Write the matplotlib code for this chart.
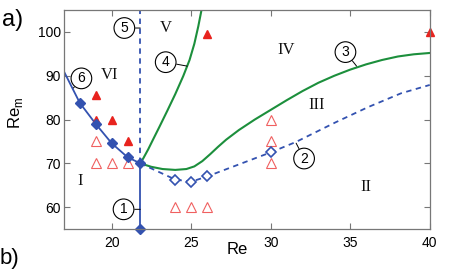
import matplotlib
matplotlib.use("Agg")
import matplotlib.pyplot as plt

# solid blue boundary with filled diamonds
solid_re = [17.0, 18.0, 19.0, 20.0, 21.0, 21.8]
solid_rem = [91.0, 83.8, 79.0, 74.6, 71.4, 70.0]
diam_re = [18.0, 19.0, 20.0, 21.0, 21.8, 21.8]
diam_rem = [83.8, 79.0, 74.6, 71.4, 70.0, 55.0]
vert_re = [21.8, 21.8]
vert_rem = [70.0, 55.0]
# dashed vertical (5)
dvert_re = [21.8, 21.8]
dvert_rem = [70.0, 105.0]
# dashed blue boundary (2) with open diamonds
dash_re = [21.8, 24.0, 25.0, 26.0, 30.0, 31.6, 34.1, 36.1, 38.2, 40.0]
dash_rem = [70.0, 66.3, 65.8, 67.0, 72.5, 74.9, 79.4, 82.8, 86.0, 87.9]
odiam_re = [24.0, 25.0, 26.0, 30.0]
odiam_rem = [66.3, 65.8, 67.0, 72.5]
# green curve (3)
g3_re = [21.8, 22.5, 23.2, 24.0, 24.7, 25.2, 25.7, 26.2, 26.7, 27.2, 28.0,
         29.0, 30.0, 31.0, 32.0, 33.0, 34.0, 35.0, 36.0, 37.0, 38.0, 39.0, 40.0]
g3_rem = [70.0, 69.2, 68.7, 68.5, 68.7, 69.3, 70.5, 72.1, 73.8, 75.4, 77.6,
          80.0, 82.2, 84.4, 86.5, 88.4, 90.0, 91.4, 92.6, 93.6, 94.4, 94.9, 95.2]
# green curve (4)
g4_re = [21.8, 22.0, 22.3, 22.6, 23.0, 23.5, 24.0, 24.5, 24.9, 25.2, 25.45, 25.65]
g4_rem = [70.0, 71.2, 73.2, 75.4, 78.3, 82.0, 85.8, 89.9, 93.6, 97.3, 101.3, 105.0]
# experiments
filled_re = [19, 19, 20, 21, 26, 40]
filled_rem = [85.5, 80, 80, 75, 99.5, 100]
open_re = [19, 19, 20, 21, 24, 25, 26, 30, 30, 30]
open_rem = [75, 70, 70, 70, 60, 60, 60, 80, 75, 70]

regions = ["I", "II", "III", "IV", "V", "VI"]
region_re = [18.0, 36.0, 32.9, 31.0, 23.4, 19.9]
region_rem = [65.9, 64.7, 83.3, 95.8, 100.9, 90.1]

circ_lab = ["1", "2", "3", "4", "5", "6"]
circ_re = [20.75, 32.1, 34.7, 23.4, 20.8, 18.1]
circ_rem = [59.5, 71.1, 95.4, 93.1, 100.9, 89.4]
lead_re = [21.8, 31.6, 35.4, 24.75, 21.8, 17.6]
lead_rem = [59.5, 74.6, 92.2, 92.2, 100.9, 87.2]

blue = "#3352b0"
green = "#1c8f3c"
red = "#e8231e"

fig = plt.figure(figsize=(4.5, 2.72), dpi=100)
ax = fig.add_axes([0.142, 0.158, 0.813, 0.805])

ax.plot(g3_re, g3_rem, color=green, lw=1.5)
ax.plot(g4_re, g4_rem, color=green, lw=1.5)
ax.plot(dvert_re, dvert_rem, color=blue, lw=1.3, dashes=(3, 2.5))
ax.plot(dash_re, dash_rem, color=blue, lw=1.3, dashes=(3, 2.5))
ax.plot(solid_re, solid_rem, color=blue, lw=1.3)
ax.plot(vert_re, vert_rem, color=blue, lw=1.3)

ax.plot(filled_re, filled_rem, ls="none", marker="^", ms=6, color=red, clip_on=False)
ax.plot(open_re, open_rem, ls="none", marker="^", ms=7, mfc="none", mec="#f06060",
        mew=0.8)
ax.plot(diam_re, diam_rem, ls="none", marker="D", ms=5.5, color=blue, clip_on=False)
ax.plot(odiam_re, odiam_rem, ls="none", marker="D", ms=5.5, mfc="white", mec=blue,
        mew=1.2)

for lab, x, y in zip(regions, region_re, region_rem):
    ax.text(x, y, lab, family="Liberation Serif", fontsize=12, ha="center",
            va="center", color="#111111")

for lab, x, y, lx, ly in zip(circ_lab, circ_re, circ_rem, lead_re, lead_rem):
    ax.annotate("", xy=(lx, ly), xytext=(x, y),
                arrowprops=dict(arrowstyle="-", lw=0.7, color="black",
                                shrinkA=8, shrinkB=0))
    ax.text(x, y, lab, fontsize=10, ha="center", va="center",
            family="Liberation Sans",
            bbox=dict(boxstyle="circle,pad=0.24", fc="white", ec="black", lw=0.8))

ax.set_xlim(17, 40)
ax.set_ylim(55, 105)
ax.set_xticks([20, 25, 30, 35, 40])
ax.set_yticks([60, 70, 80, 90, 100])
ax.tick_params(direction="in", top=True, right=True, length=4, width=0.8,
               color="#777777", labelsize=10)
ax.tick_params(axis="x", pad=5)
ax.tick_params(axis="y", pad=2)
for lbl in ax.get_xticklabels() + ax.get_yticklabels():
    lbl.set_family("Liberation Sans")
for s in ax.spines.values():
    s.set_color("#777777")
    s.set_linewidth(0.9)

ax.set_xlabel("Re", family="Liberation Sans", fontsize=12)
ax.xaxis.set_label_coords(0.475, -0.06)
ax.set_ylabel("Re$_\\mathregular{m}$", family="Liberation Sans", fontsize=12)
ax.yaxis.set_label_coords(-0.105, 0.53)

fig.text(0.005, 0.925, "a)", fontsize=17, family="Liberation Sans", va="center")
fig.text(0.0, 0.05, "b)", fontsize=16, family="Liberation Sans", va="center")

fig.savefig("out.png", dpi=100)
